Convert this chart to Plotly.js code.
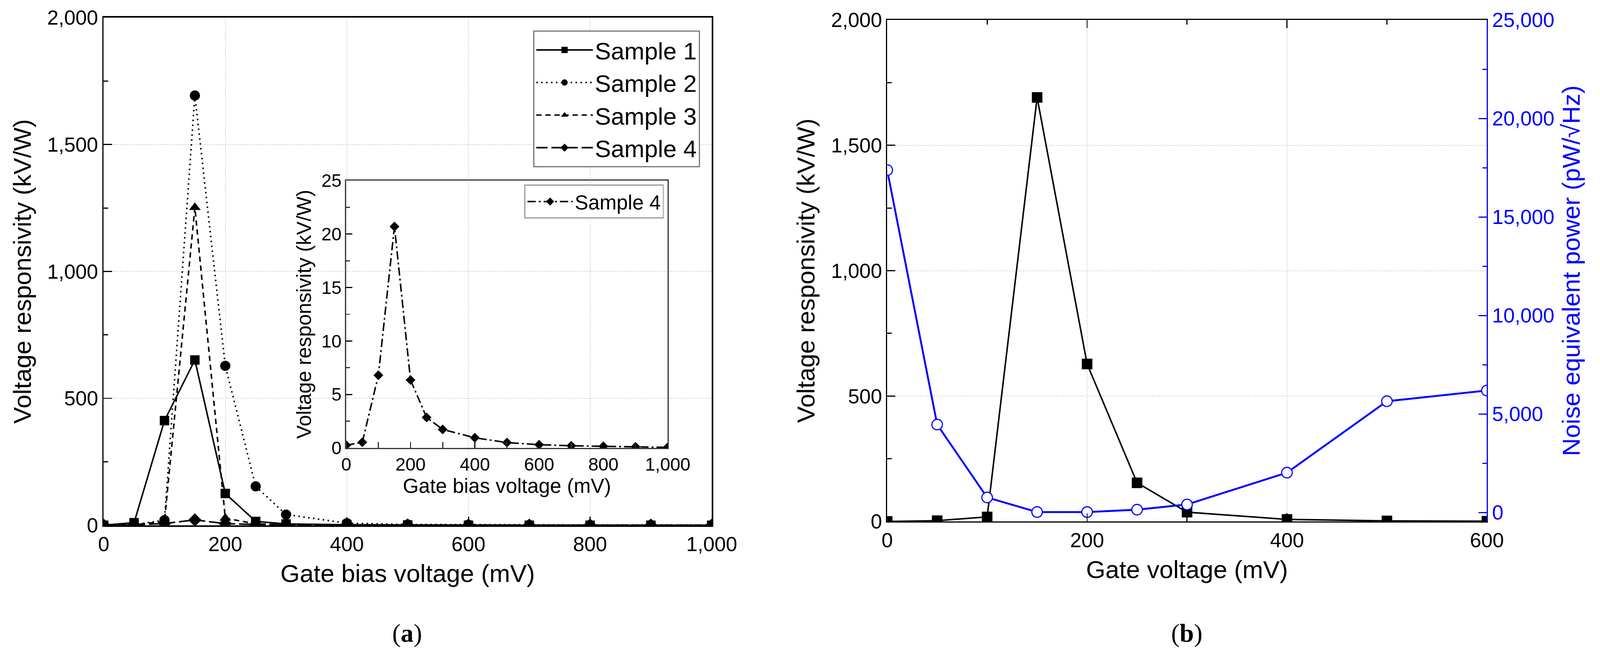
<!DOCTYPE html>
<html>
<head>
<meta charset="utf-8">
<script src="https://cdn.plot.ly/plotly-3.0.1.min.js"></script>
<style>
  html, body { margin: 0; padding: 0; background: #fff; overflow: hidden; }
  #chart { width: 100vw; height: 100vh; }
</style>
</head>
<body>
<div id="chart"></div>
<script>
// DATA
// panel (a): gate bias voltage (mV) and responsivity (kV/W)
var biasMv = [0, 50, 100, 150, 200, 250, 300, 400, 500, 600, 700, 800, 900, 1000];
var sample1 = [0, 10, 412, 651, 125, 15, 5, 2, 1, 0, 0, 0, 0, 0];
var sample2 = [0, 2, 20, 1693, 628, 153, 42, 8, 3, 2, 1, 1, 1, 0];
var sample3 = [0, 2, 15, 1252, 28, 5, 2, 1, 1, 0, 0, 0, 0, 0];
var sample4 = [0.25, 0.53, 6.8, 20.7, 6.35, 2.85, 1.73, 0.95, 0.5, 0.3, 0.2, 0.15, 0.1, 0.05];

// panel (b): gate voltage (mV), responsivity (kV/W), NEP (pW/sqrt(Hz))
var gateMv = [0, 50, 100, 150, 200, 250, 300, 400, 500, 600];
var respB = [0, 3, 18, 1691, 628, 154, 37, 8, 2, 1];
var nepB = [17380, 4460, 760, 20, 20, 140, 405, 2020, 5645, 6190];

// the page may be photographed through a viewport smaller than 4242x1663,
// so everything is sized relative to the window
var W = window.innerWidth || 4242;
var H = window.innerHeight || 1663;
var k = Math.min(W / 4242, H / 1663);
function s(v) { return v * k; }
function px(v) { return (v * k) + 'px'; }

var FONT = 'Liberation Sans, Arial, sans-serif';
var SERIF = 'Liberation Serif, Times New Roman, serif';
var BLUE = '#0000ff';
var GRID = '#cfcfcf';

var traces = [
  {x: biasMv, y: sample1, name: 'Sample 1', type: 'scatter', mode: 'lines+markers',
   line: {color: '#000', width: s(4)}, marker: {symbol: 'square', size: s(25), color: '#000'},
   xaxis: 'x', yaxis: 'y', legend: 'legend'},
  {x: biasMv, y: sample2, name: 'Sample 2', type: 'scatter', mode: 'lines+markers',
   line: {color: '#000', width: s(4), dash: px(4) + ',' + px(9)}, marker: {symbol: 'circle', size: s(27), color: '#000'},
   xaxis: 'x', yaxis: 'y', legend: 'legend'},
  {x: biasMv, y: sample3, name: 'Sample 3', type: 'scatter', mode: 'lines+markers',
   line: {color: '#000', width: s(4), dash: px(14) + ',' + px(10)}, marker: {symbol: 'triangle-up', size: s(27), color: '#000'},
   xaxis: 'x', yaxis: 'y', legend: 'legend'},
  {x: biasMv, y: sample4, name: 'Sample 4', type: 'scatter', mode: 'lines+markers',
   line: {color: '#000', width: s(4), dash: px(30) + ',' + px(10)}, marker: {symbol: 'diamond', size: s(27), color: '#000'},
   xaxis: 'x', yaxis: 'y', legend: 'legend'},
  // inset
  {x: biasMv, y: sample4, name: 'Sample 4', type: 'scatter', mode: 'lines+markers',
   line: {color: '#000', width: s(4), dash: [px(22), px(8), px(5), px(8)].join(',')},
   marker: {symbol: 'diamond', size: s(20), color: '#000'},
   xaxis: 'x2', yaxis: 'y2', legend: 'legend2'},
  // panel (b)
  {x: gateMv, y: respB, name: 'Responsivity', type: 'scatter', mode: 'lines+markers',
   line: {color: '#000', width: s(4)}, marker: {symbol: 'square', size: s(28), color: '#000'},
   xaxis: 'x3', yaxis: 'y3', showlegend: false},
  {x: gateMv, y: nepB, name: 'NEP', type: 'scatter', mode: 'lines+markers',
   line: {color: BLUE, width: s(5)},
   marker: {symbol: 'circle', size: s(28), color: '#fff', line: {color: BLUE, width: s(3)}},
   xaxis: 'x3', yaxis: 'y4', showlegend: false}
];

function minorTicks(dtick, len, color) {
  return {ticks: 'inside', dtick: dtick, ticklen: s(len), tickwidth: s(3), tickcolor: color || '#000', showgrid: false};
}

function axisBase(extra) {
  var a = {
    showline: true, linecolor: '#000', linewidth: s(4),
    ticks: 'inside', ticklen: s(22), tickwidth: s(3), tickcolor: '#000',
    showgrid: true, gridcolor: GRID, gridwidth: s(2), griddash: 'dot',
    zeroline: false, tickformat: ',d',
    tickfont: {family: FONT, size: s(54), color: '#000'}
  };
  for (var key in extra) a[key] = extra[key];
  return a;
}

function axTitle(text, size, standoff, color) {
  return {text: text, standoff: s(standoff), font: {family: FONT, size: s(size), color: color || '#000'}};
}

var layout = {
  width: W, height: H,
  margin: {l: 0, r: 0, t: 0, b: 0},
  paper_bgcolor: '#fff',
  plot_bgcolor: 'rgba(0,0,0,0)',
  font: {family: FONT, color: '#000'},
  hovermode: false,

  // (a) main
  xaxis: axisBase({domain: [0.0648, 0.4448], range: [0, 1000], dtick: 200, anchor: 'y', mirror: true,
    ticklabelstandoff: 0, minor: minorTicks(100, 12),
    title: axTitle('Gate bias voltage (mV)', 66, 26)}),
  yaxis: axisBase({domain: [0.1920, 0.9729], range: [0, 2000], dtick: 500, anchor: 'x', mirror: true,
    ticklabelstandoff: s(14), minor: minorTicks(250, 12),
    title: axTitle('Voltage responsivity (kV/W)', 66, 22)}),

  // (a) inset
  xaxis2: axisBase({domain: [0.2164, 0.4173], range: [0, 1000], dtick: 200, anchor: 'y2', mirror: true,
    showgrid: false, linecolor: '#333', linewidth: s(3), ticklen: s(16),
    tickfont: {family: FONT, size: s(48), color: '#000'}, minor: minorTicks(100, 16, '#333'),
    ticklabelstandoff: 0,
    title: axTitle('Gate bias voltage (mV)', 54, 4)}),
  yaxis2: axisBase({domain: [0.3109, 0.7222], range: [0, 25], dtick: 5, anchor: 'x2', mirror: true,
    showgrid: false, linecolor: '#333', linewidth: s(3), ticklen: s(16),
    tickfont: {family: FONT, size: s(48), color: '#000'}, minor: minorTicks(2.5, 10, '#333'),
    ticklabelstandoff: s(10),
    title: axTitle('Voltage responsivity (kV/W)', 54, 10)}),

  // (b)
  xaxis3: axisBase({domain: [0.5545, 0.9293], range: [0, 600], dtick: 200, anchor: 'y3', mirror: 'ticks',
    linewidth: s(3), ticklabelstandoff: 0, minor: minorTicks(100, 12),
    title: axTitle('Gate voltage (mV)', 66, 26)}),
  yaxis3: axisBase({domain: [0.1978, 0.9693], range: [0, 2000], dtick: 500, anchor: 'x3',
    linewidth: s(3), ticklabelstandoff: s(14), minor: minorTicks(250, 12),
    title: axTitle('Voltage responsivity (kV/W)', 66, 22)}),
  yaxis4: axisBase({range: [-456, 25000], dtick: 5000, anchor: 'x3', overlaying: 'y3', side: 'right',
    showgrid: false, linecolor: BLUE, linewidth: s(3), tickcolor: BLUE, ticklabelstandoff: s(14),
    tickfont: {family: FONT, size: s(54), color: BLUE}, minor: minorTicks(2500, 12, BLUE),
    title: axTitle('Noise equivalent power (pW/√Hz)', 66, 22, BLUE)}),

  legend: {x: 0.4375, y: 0.953, xanchor: 'right', yanchor: 'top',
    bgcolor: '#fff', bordercolor: '#777', borderwidth: s(3),
    font: {family: FONT, size: s(64), color: '#000'}, itemwidth: Math.max(30, s(150)), tracegroupgap: 0},
  legend2: {x: 0.4149, y: 0.716, xanchor: 'right', yanchor: 'top',
    bgcolor: '#fff', bordercolor: '#999', borderwidth: s(3),
    font: {family: FONT, size: s(54), color: '#000'}, itemwidth: Math.max(30, s(120))},

  annotations: [
    {text: '(<b>a</b>)', xref: 'paper', yref: 'paper', x: 0.2546, y: 0.026, showarrow: false,
     xanchor: 'center', yanchor: 'middle', font: {family: SERIF, size: s(68), color: '#000'}},
    {text: '(<b>b</b>)', xref: 'paper', yref: 'paper', x: 0.7416, y: 0.026, showarrow: false,
     xanchor: 'center', yanchor: 'middle', font: {family: SERIF, size: s(68), color: '#000'}}
  ]
};

Plotly.newPlot('chart', traces, layout, {staticPlot: true, displayModeBar: false});
</script>
</body>
</html>
